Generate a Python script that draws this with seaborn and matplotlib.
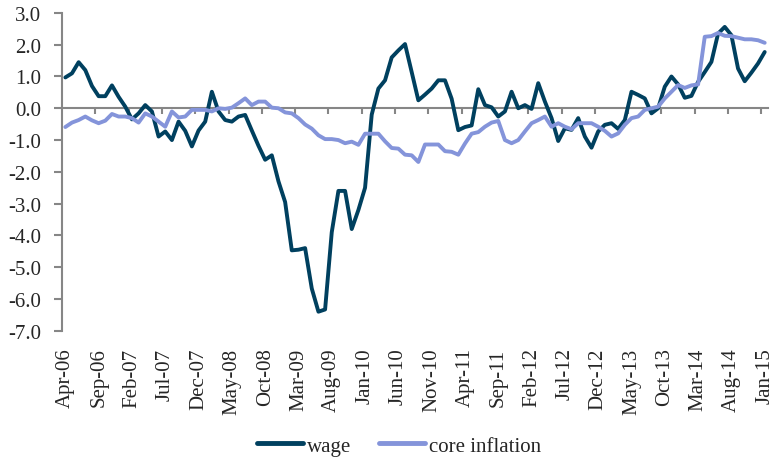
import matplotlib
matplotlib.use('Agg')
import matplotlib.pyplot as plt
from matplotlib.lines import Line2D
from matplotlib.ticker import FormatStrFormatter
import seaborn as sns
import pandas as pd
import numpy as np

# Datos mensuales, de Apr-06 a Jan-15 (106 meses)
wage = [
    0.97, 1.10, 1.45, 1.20, 0.70, 0.38, 0.38, 0.72, 0.36, 0.05,
    -0.35, -0.16, 0.10, -0.10, -0.89, -0.73, -1.00, -0.42, -0.71, -1.20,
    -0.70, -0.42, 0.52, -0.10, -0.37, -0.42, -0.26, -0.21, -0.70, -1.18,
    -1.62, -1.48, -2.30, -2.95, -4.47, -4.45, -4.40, -5.67, -6.40, -6.33,
    -3.90, -2.60, -2.60, -3.80, -3.20, -2.50, -0.20, 0.62, 0.88, 1.60,
    1.82, 2.02, 1.14, 0.25, 0.43, 0.62, 0.88, 0.88, 0.30, -0.69,
    -0.59, -0.54, 0.60, 0.10, 0.03, -0.26, -0.10, 0.52, 0.00, 0.10,
    -0.02, 0.79, 0.21, -0.31, -1.03, -0.63, -0.68, -0.31, -0.89, -1.24,
    -0.73, -0.52, -0.47, -0.65, -0.37, 0.52, 0.42, 0.31, -0.16, 0.00,
    0.68, 1.00, 0.75, 0.33, 0.39, 0.83, 1.14, 1.46, 2.35, 2.56,
    2.30, 1.25, 0.85, 1.12, 1.41, 1.77,
]
core_inflation = [
    -0.59, -0.45, -0.37, -0.26, -0.38, -0.47, -0.39, -0.18, -0.26, -0.26,
    -0.31, -0.45, -0.16, -0.26, -0.42, -0.58, -0.10, -0.29, -0.26, -0.05,
    -0.05, -0.05, -0.10, 0.00, -0.02, 0.02, 0.16, 0.31, 0.10, 0.21,
    0.21, 0.02, 0.00, -0.13, -0.16, -0.31, -0.51, -0.64, -0.85, -0.97,
    -0.97, -1.00, -1.10, -1.05, -1.15, -0.80, -0.80, -0.80, -1.04, -1.25,
    -1.27, -1.46, -1.48, -1.69, -1.14, -1.14, -1.14, -1.35, -1.37, -1.46,
    -1.11, -0.80, -0.75, -0.58, -0.45, -0.40, -1.00, -1.10, -1.00, -0.73,
    -0.47, -0.37, -0.26, -0.58, -0.47, -0.58, -0.66, -0.47, -0.47, -0.47,
    -0.58, -0.71, -0.89, -0.79, -0.52, -0.31, -0.26, -0.05, 0.00, 0.05,
    0.31, 0.52, 0.73, 0.64, 0.72, 0.75, 2.25, 2.27, 2.37, 2.28,
    2.27, 2.22, 2.17, 2.17, 2.14, 2.06,
]
# Etiquetas del eje x (una cada 5 meses)
tick_labels = ['Apr-06', 'Sep-06', 'Feb-07', 'Jul-07', 'Dec-07', 'May-08',
               'Oct-08', 'Mar-09', 'Aug-09', 'Jan-10', 'Jun-10', 'Nov-10',
               'Apr-11', 'Sep-11', 'Feb-12', 'Jul-12', 'Dec-12', 'May-13',
               'Oct-13', 'Mar-14', 'Aug-14', 'Jan-15']

colores = {'wage': '#00405F', 'core inflation': '#8494DA'}
gris = '#868686'

n = len(wage)
df = pd.DataFrame({
    't': np.tile(np.arange(n), 2),
    'valor': wage + core_inflation,
    'serie': ['wage'] * n + ['core inflation'] * n,
})

sns.set_style('white')
plt.rcParams['font.family'] = ['Liberation Serif', 'DejaVu Serif']

fig = plt.figure(figsize=(7.75, 4.64), dpi=100)
ax = fig.add_axes([0.080, 0.285, 0.911, 0.685])

sns.lineplot(data=df, x='t', y='valor', hue='serie', palette=colores,
             linewidth=2.8, ax=ax, legend=False)

ax.set_xlim(-0.5, n - 0.5)
ax.set_ylim(-7, 3)
ax.set_yticks(np.arange(-7, 4, 1))
ax.yaxis.set_major_formatter(FormatStrFormatter('%.1f'))
ax.tick_params(axis='y', direction='out', length=6, width=1.5, color=gris,
               pad=9, labelsize=15, left=True)
ax.set_xticks(np.arange(0, n, 5))
ax.set_xticklabels(tick_labels, rotation=90)
ax.tick_params(axis='x', length=0, pad=12, labelsize=15)
ax.set_xlabel('')
ax.set_ylabel('')
for lado in ['top', 'right', 'bottom']:
    ax.spines[lado].set_visible(False)
ax.spines['left'].set_color(gris)
ax.spines['left'].set_linewidth(1.5)

# Línea del cero con marcas entre categorías
y0 = (0 - ax.get_ylim()[0]) / (ax.get_ylim()[1] - ax.get_ylim()[0])
sec = ax.secondary_xaxis(y0)
sec.set_alignment('bottom')
sec.set_xticks(np.arange(4.5, n, 5))
sec.tick_params(axis='x', direction='out', length=4, width=1.5, color=gris,
                labelbottom=False)
sec.spines['bottom'].set_color(gris)
sec.spines['bottom'].set_linewidth(1.5)
sec.set_zorder(1)

handles = [Line2D([], [], color=colores[s], linewidth=3.5) for s in colores]
fig.legend(handles, list(colores), loc='center', bbox_to_anchor=(0.515, 0.037),
           ncol=2, frameon=False, fontsize=15, handlelength=2.2,
           columnspacing=1.3, handletextpad=0.2)

fig.savefig('out.png', dpi=100)
